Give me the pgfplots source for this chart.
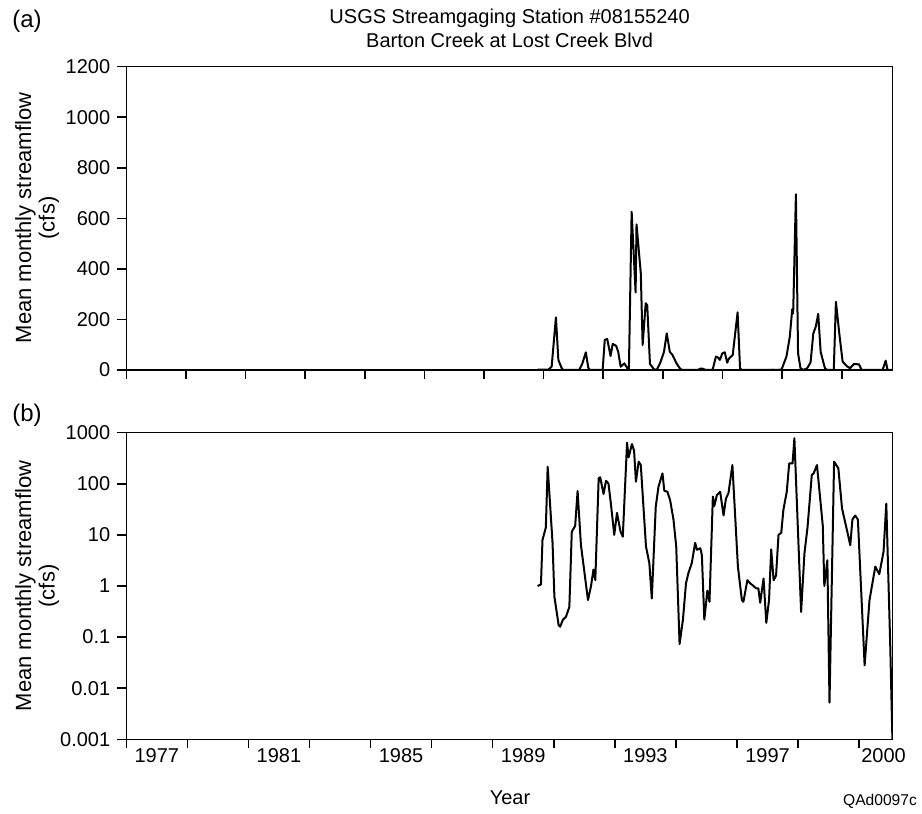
\documentclass[border=0pt]{standalone}
\usepackage{fontspec}
\setmainfont{Liberation Sans}
\usepackage{pgfplots}
\usepackage{pgfplotstable}
\pgfplotsset{compat=1.18}

% panel (a): mean monthly streamflow, linear scale (cfs)
\pgfplotstableread{
year flow
1989.47 1
1989.82 1
1989.93 13
1990.07 208
1990.15 40
1990.26 7
1990.31 0
1990.83 0
1990.93 24
1991.05 70
1991.13 9
1991.18 0
1991.60 0
1991.67 119
1991.75 123
1991.86 55
1991.93 103
1992.04 96
1992.11 72
1992.19 13
1992.31 26
1992.41 7
1992.46 3
1992.55 626
1992.68 307
1992.71 576
1992.85 382
1992.91 99
1993.01 264
1993.06 257
1993.15 24
1993.28 3
1993.37 0
1993.48 26
1993.61 72
1993.70 145
1993.80 72
1993.89 59
1994.02 26
1994.15 3
1994.24 0
1994.72 0
1994.79 5
1994.88 5
1994.98 0
1995.20 0
1995.31 53
1995.38 49
1995.44 40
1995.52 66
1995.60 70
1995.68 29
1995.74 46
1995.86 59
1996.02 228
1996.10 7
1996.15 0
1997.19 1
1997.30 0
1997.46 2
1997.62 53
1997.73 132
1997.81 241
1997.84 224
1997.93 695
1998.00 66
1998.08 7
1998.17 0
1998.30 7
1998.41 30
1998.50 145
1998.58 171
1998.66 222
1998.74 72
1998.88 7
1998.95 0
1999.17 0
1999.24 270
1999.35 145
1999.46 33
1999.59 16
1999.70 7
1999.83 24
2000.00 22
2000.08 0
2000.77 0
2000.87 37
2000.93 0
2001.10 0
}\linflow

% panel (b): same record, log scale
\pgfplotstableread{
year flow
1989.47 1.0
1989.58 1.07
1989.63 7.9
1989.74 14
1989.80 216
1989.96 6.9
1990.02 0.62
1990.16 0.17
1990.21 0.16
1990.30 0.22
1990.40 0.25
1990.51 0.39
1990.59 11.6
1990.70 15
1990.78 72
1990.89 6.3
1991.12 0.53
1991.22 1.0
1991.30 2.1
1991.36 1.3
1991.47 128
1991.52 134
1991.63 63
1991.71 114
1991.79 102
1991.87 41
1991.98 10
1992.07 27
1992.18 12
1992.26 9.2
1992.40 637
1992.45 330
1992.56 600
1992.63 445
1992.69 110
1992.78 271
1992.85 233
1993.02 5.9
1993.13 2.8
1993.21 0.57
1993.34 36
1993.43 88
1993.56 160
1993.62 73
1993.72 70
1993.81 48
1993.92 20
1994.01 5.9
1994.12 0.073
1994.23 0.22
1994.33 1.13
1994.41 1.8
1994.52 2.8
1994.63 7.0
1994.69 5.1
1994.80 5.5
1994.85 4.0
1994.93 0.22
1995.03 0.81
1995.10 0.49
1995.21 56
1995.26 37
1995.34 60
1995.45 70
1995.56 24
1995.64 52
1995.72 65
1995.85 233
1996.03 2.4
1996.16 0.53
1996.21 0.49
1996.34 1.3
1996.43 1.13
1996.54 1.0
1996.63 0.9
1996.70 0.9
1996.76 0.47
1996.87 1.4
1996.96 0.19
1997.05 0.53
1997.12 5.2
1997.20 1.3
1997.28 1.6
1997.36 10
1997.45 11
1997.52 31
1997.63 70
1997.71 250
1997.82 250
1997.88 780
1998.10 0.31
1998.21 4.4
1998.31 14
1998.45 149
1998.51 160
1998.62 233
1998.81 15
1998.86 1.0
1998.96 3.2
1999.03 0.0052
1999.18 271
1999.32 201
1999.44 33
1999.60 12.5
1999.71 6.3
1999.78 20
1999.87 24
1999.96 20
2000.18 0.028
2000.34 0.53
2000.53 2.4
2000.66 1.7
2000.80 4.7
2000.89 41
2001.02 0.065
2001.09 0.001
}\logflow

\begin{document}
\fontsize{10}{12}\selectfont
\begin{tikzpicture}
\pgfplotsset{
  panel/.style={
    scale only axis, width=383.2pt,
    xmin=1976, xmax=2001.1,
    axis line style={line width=0.75pt},
    tick style={line width=0.75pt, black},
    tick align=outside, major tick length=4.5pt,
    xtick pos=left, ytick pos=left,
    minor tick num=0,
    ticklabel style={font=\fontsize{10}{12}\selectfont},
  },
}
\path[use as bounding box] (0,0) rectangle (461pt,407pt);

\begin{axis}[panel, at={(63.15pt,222pt)}, anchor=south west,
    height=151.65pt, ymin=0, ymax=1200,
    ytick={0,200,400,600,800,1000,1200},
    yticklabels={0,200,400,600,800,1000,1200},
    xtick={1976,1977.95,1979.91,1981.86,1983.81,1985.77,1987.72,1989.67,1991.62,1993.58,1995.53,1997.48,1999.44},
    xticklabels={}]
\addplot[black, line width=1pt, line join=round] table[x=year, y=flow] {\linflow};
\end{axis}

\begin{axis}[panel, at={(63.15pt,37.35pt)}, anchor=south west,
    height=153.3pt, ymode=log, ymin=0.001, ymax=1000,
    ytick={0.001,0.01,0.1,1,10,100,1000},
    yticklabels={0.001,0.01,0.1,1,10,100,1000},
    yminorticks=false,
    xtick={1976,1978,...,2000}, xticklabels={},
    extra x ticks={1977,1981,1985,1989,1993,1997,2000.8},
    extra x tick labels={1977,1981,1985,1989,1993,1997,2000},
    extra x tick style={tick style={draw=none}, xticklabel style={yshift=3.5pt}}]
\addplot[black, line width=1pt, line join=round] table[x=year, y=flow] {\logflow};
\end{axis}

\node[font=\fontsize{12}{14}\selectfont] at (13.5pt,396.5pt) {(a)};
\node[font=\fontsize{12}{14}\selectfont] at (13.5pt,199.5pt) {(b)};
\node at (254.8pt,398pt) {USGS Streamgaging Station \#08155240};
\node at (254.8pt,387pt) {Barton Creek at Lost Creek Blvd};
\begin{scope}[every node/.style={rotate=90, font=\fontsize{11}{13}\selectfont}]
\node at (12.75pt,298pt) {Mean monthly streamflow};
\node at (24.5pt,298pt) {(cfs)};
\node at (12.75pt,114pt) {Mean monthly streamflow};
\node at (24.5pt,114pt) {(cfs)};
\end{scope}
\node at (255pt,8pt) {Year};
\node[font=\fontsize{7.8}{9}\selectfont] at (440pt,6.5pt) {QAd0097c};
\end{tikzpicture}
\end{document}
